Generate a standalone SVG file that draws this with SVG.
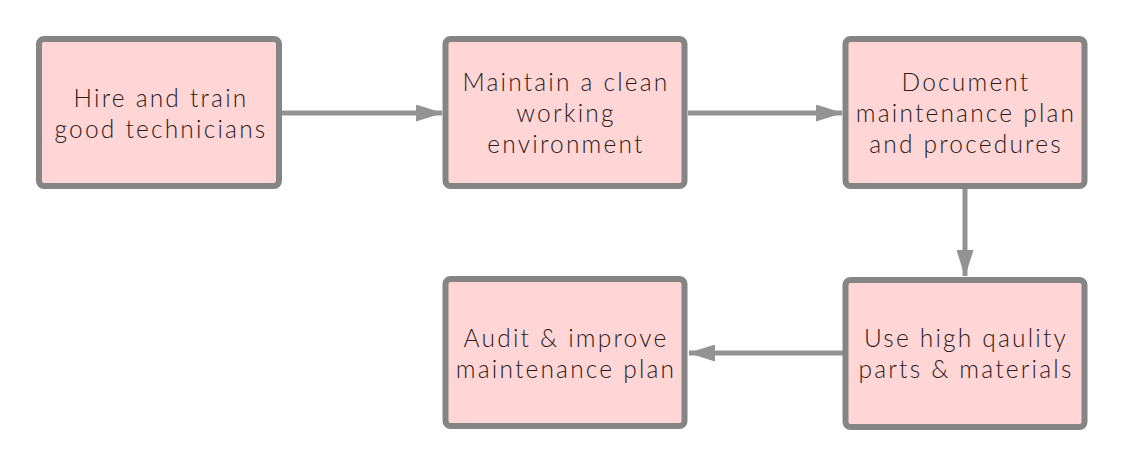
<svg xmlns="http://www.w3.org/2000/svg" width="1125" height="468" viewBox="0 0 1125 468">
<defs>
<style>
.box{fill:#ffd5d5;stroke:#858585;stroke-width:6}
.lbl{font-family:Lato,"Noto Sans",sans-serif;font-weight:300;font-size:24.5px;letter-spacing:2.2px;fill:#2a1c1c;text-anchor:middle}
.conn{stroke:#939393;stroke-width:5;fill:none}
</style>
<marker id="ah" viewBox="0 0 27 17" refX="26" refY="8.5" markerWidth="27" markerHeight="17" markerUnits="userSpaceOnUse" orient="auto">
<path d="M0,0 L27,8.5 L0,17 Z" fill="#939393"/>
</marker>
</defs>
<rect width="1125" height="468" fill="#ffffff"/>
<g id="connectors">
<line class="conn" x1="282" y1="113" x2="442" y2="113" marker-end="url(#ah)"/>
<line class="conn" x1="688" y1="113" x2="842" y2="113" marker-end="url(#ah)"/>
<line class="conn" x1="965" y1="189" x2="965" y2="276" marker-end="url(#ah)"/>
<line class="conn" x1="843" y1="353" x2="689" y2="353" marker-end="url(#ah)"/>
</g>
<g id="n1">
<rect class="box" x="39" y="39" width="240" height="147" rx="5"/>
<text class="lbl" x="161" y="107">Hire and train</text>
<text class="lbl" x="161" y="138">good technicians</text>
</g>
<g id="n2">
<rect class="box" x="445.5" y="39" width="239" height="147" rx="5"/>
<text class="lbl" x="566" y="91">Maintain a clean</text>
<text class="lbl" x="566" y="122">working</text>
<text class="lbl" x="566" y="153">environment</text>
</g>
<g id="n3">
<rect class="box" x="845.5" y="39" width="239" height="147" rx="5"/>
<text class="lbl" x="966" y="91">Document</text>
<text class="lbl" x="966" y="122">maintenance plan</text>
<text class="lbl" x="966" y="153">and procedures</text>
</g>
<g id="n4">
<rect class="box" x="845.5" y="280" width="239" height="147" rx="5"/>
<text class="lbl" x="966" y="347">Use high qaulity</text>
<text class="lbl" x="966" y="378">parts &amp; materials</text>
</g>
<g id="n5">
<rect class="box" x="445.5" y="279" width="239" height="147" rx="5"/>
<text class="lbl" x="566" y="347">Audit &amp; improve</text>
<text class="lbl" x="566" y="378">maintenance plan</text>
</g>
</svg>
